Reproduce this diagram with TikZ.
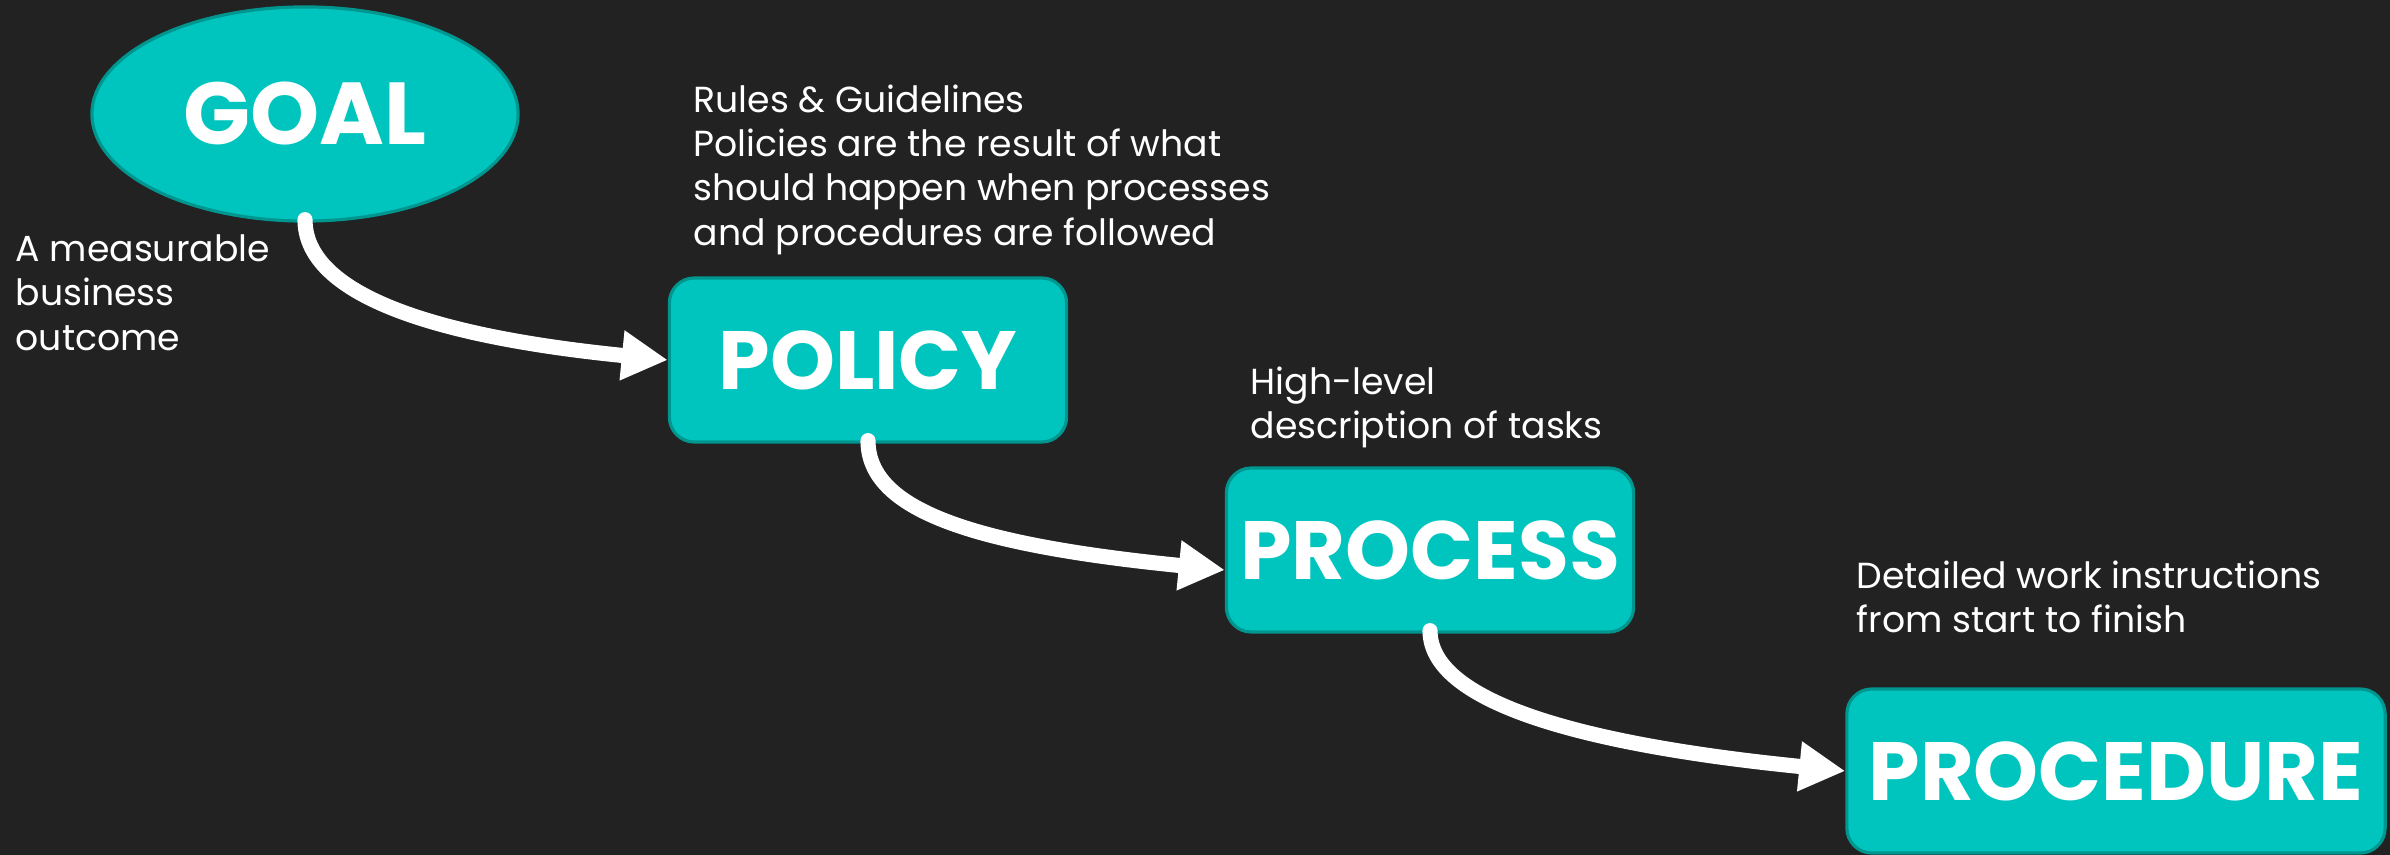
\documentclass[tikz,border=0pt]{standalone}
\usepackage{fontspec}
\setmainfont{Poppins}
\usetikzlibrary{positioning}
\usetikzlibrary{shapes.geometric, arrows.meta}
\definecolor{slide}{HTML}{222222}
\definecolor{tealfill}{HTML}{00C5BE}
\definecolor{tealline}{HTML}{009690}
\tikzstyle{goalshape} = [ellipse, minimum width=4.26cm, minimum height=2.14cm, draw=tealline, line width=0.9pt, fill=tealfill, text=white, font=\fontsize{25}{28}\selectfont\bfseries]
\tikzstyle{stage} = [rectangle, rounded corners=0.25cm, minimum height=1.64cm, draw=tealline, line width=0.9pt, fill=tealfill, text=white, font=\fontsize{23.5}{28}\selectfont\bfseries]
\tikzstyle{note} = [anchor=north west, align=left, inner sep=0pt, text=white, font=\fontsize{10.3}{12.6}\selectfont]
\tikzstyle{arrow} = [white, line width=4.3pt, line cap=round, -{Triangle[width=0.47cm,length=0.46cm]}]

\begin{document}
\begin{tikzpicture}[x=0.01cm, y=-0.01cm]
        \useasboundingbox (0,0) rectangle (2390,855);
        \fill [slide] (0,0) rectangle (2390,855);
        \node (goal) [goalshape] at (305,114) {GOAL};
        \node (policy) [stage, minimum width=3.97cm] at (868,360) {POLICY};
        \node (process) [stage, minimum width=4.07cm] at (1430,550) {PROCESS};
        \node (procedure) [stage, minimum width=5.38cm] at (2116,771) {PROCEDURE};
        \node (goalnote) [note] at (15,234) {A measurable\\business\\outcome};
        \node (policynote) [note] at (693,84) {Rules \& Guidelines\\Policies are the result of what\\should happen when processes\\and procedures are followed};
        \node (processnote) [note] at (1250,366) {High-level\\description of tasks};
        \node (procedurenote) [note] at (1856,560) {Detailed work instructions\\from start to finish};
        \draw [arrow] ([yshift=0.03cm]goal.south) .. controls +(0,70) and +(-250,-25) .. (policy.west);
        \draw [arrow] ([yshift=0.03cm]policy.south) .. controls +(0,70) and +(-250,-25) .. ([yshift=-0.2cm]process.west);
        \draw [arrow] ([yshift=0.03cm]process.south) .. controls +(0,70) and +(-270,-27) .. (procedure.west);
    \end{tikzpicture}
\end{document}
